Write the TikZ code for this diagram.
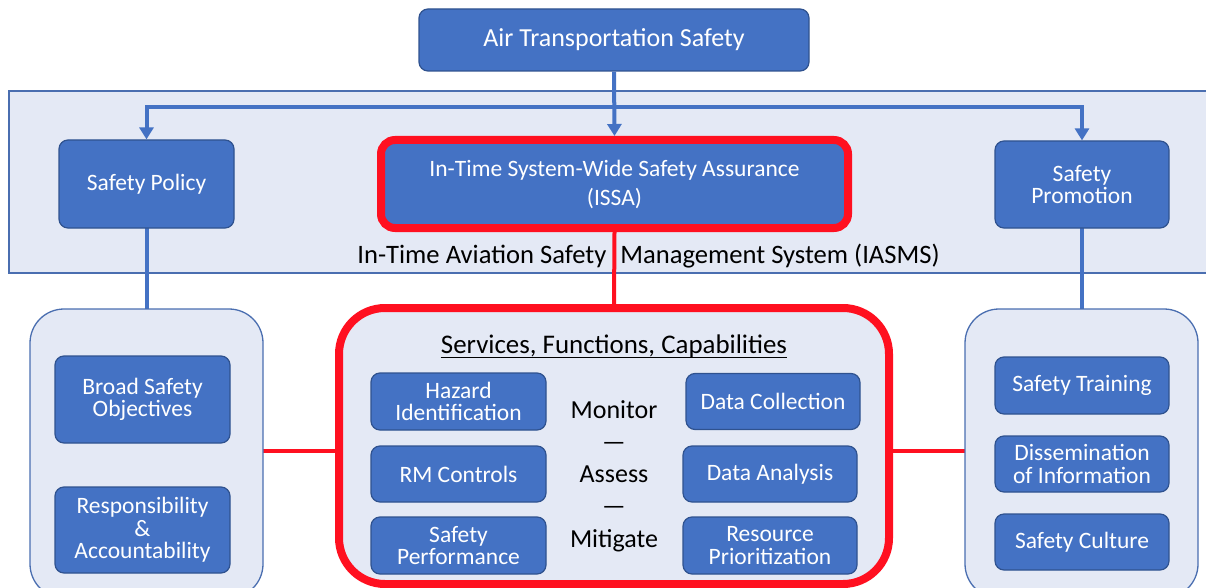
\documentclass[tikz,border=0pt]{standalone}
\usepackage{fontspec}
\setmainfont{Carlito}
\usetikzlibrary{arrows.meta}
\definecolor{ofblue}{HTML}{4472C4}
\definecolor{bord}{HTML}{2F528F}
\definecolor{lightbg}{HTML}{E4E9F5}
\definecolor{frame}{HTML}{4A6EB0}
\definecolor{hot}{RGB}{255,16,32}
\pgfdeclarelayer{back}
\pgfdeclarelayer{mid}
\pgfsetlayers{back,mid,main}
\begin{document}
\begin{tikzpicture}[x=1pt,y=-1pt,
  bluebox/.style={draw=bord, line width=1.2pt, fill=ofblue, rounded corners=9pt,
    text=white, align=center, inner sep=0pt, font=\fontsize{23.5}{22.5}\selectfont},
  container/.style={draw=frame, line width=1.3pt, fill=lightbg, rounded corners=34pt, inner sep=0pt},
  conn/.style={draw=ofblue, line width=4pt},
  hotline/.style={draw=hot, line width=4pt},
  arrowend/.style={-{Triangle[width=14pt,length=12pt]}},
  lbl/.style={text=black, font=\fontsize{26}{28}\selectfont, inner sep=0pt}
]
\useasboundingbox (0,0) rectangle (1206,588);

% band
\begin{pgfonlayer}{back}
\node[draw=frame, line width=1.5pt, fill=lightbg, minimum width=1206pt, minimum height=182pt, inner sep=0pt] (band) at (612,182) {};
\end{pgfonlayer}

% top
\node[bluebox, minimum width=390pt, minimum height=62pt, font=\fontsize{26}{28}\selectfont] (ats) at (614,40) {Air Transportation Safety};

% second row
\node[bluebox, minimum width=175pt, minimum height=88pt] (policy) at (146.5,184) {Safety Policy};
\node[bluebox, draw=hot, line width=8pt, rounded corners=14pt, minimum width=467pt, minimum height=88pt, font=\fontsize{23.5}{29}\selectfont] (issa) at (614.5,184) {In-Time System-Wide Safety Assurance\\(ISSA)};
\node[bluebox, minimum width=174pt, minimum height=87pt] (promo) at (1082,184.5) {Safety\\Promotion};

\node[lbl, anchor=base, font=\fontsize{26.6}{28}\selectfont] (iasms) at (648.5,263) {In-Time Aviation Safety\hspace{14pt}Management System (IASMS)};

% containers
\node[container, minimum width=233pt, minimum height=289pt] (leftc) at (146.5,453.5) {};
\node[container, minimum width=233pt, minimum height=289pt] (rightc) at (1081.5,453.5) {};
\node[container, draw=hot, line width=8pt, rounded corners=46pt, minimum width=550pt, minimum height=276pt] (centerc) at (614,446) {};

% left contents
\node[bluebox, minimum width=175pt, minimum height=87pt] (broad) at (142.5,399.5) {Broad Safety\\Objectives};
\node[bluebox, minimum width=175pt, minimum height=86pt] (resp) at (142.5,530) {Responsibility\\\&\\Accountability};

% center contents
\node[lbl, anchor=base, font=\fontsize{26.9}{28}\selectfont] (title) at (614,353) {Services, Functions, Capabilities};
\draw[line width=1.8pt] ([yshift=-4.5pt]title.base west) -- ([yshift=-4.5pt]title.base east);

\node[bluebox, minimum width=175pt, minimum height=57pt] (hazard) at (458.5,401.5) {Hazard\\Identification};
\node[bluebox, minimum width=175pt, minimum height=56pt] (rm) at (458.5,474) {RM Controls};
\node[bluebox, minimum width=175pt, minimum height=57pt] (perf) at (458.5,545.5) {Safety\\Performance};
\node[bluebox, minimum width=174pt, minimum height=56pt] (dcoll) at (773,401.5) {Data Collection};
\node[bluebox, minimum width=174pt, minimum height=56pt] (dana) at (770,474) {Data Analysis};
\node[bluebox, minimum width=174pt, minimum height=57pt] (rprio) at (770,545.5) {Resource\\Prioritization};

\node[lbl, anchor=base] (monitor) at (614,418) {Monitor};
\node[lbl, anchor=base] (dash1) at (614,450) {—};
\node[lbl, anchor=base] (assess) at (614,482) {Assess};
\node[lbl, anchor=base] (dash2) at (614,514) {—};
\node[lbl, anchor=base] (mitigate) at (614,547) {Mitigate};

% right contents
\node[bluebox, minimum width=174pt, minimum height=57pt] (train) at (1082,385.5) {Safety Training};
\node[bluebox, minimum width=174pt, minimum height=56pt] (dissem) at (1082,464) {Dissemination\\of Information};
\node[bluebox, minimum width=174pt, minimum height=56pt] (culture) at (1082,542) {Safety Culture};

% connectors
\coordinate (split) at (614,107);
\coordinate (lr) at (0,450.5);
\draw[conn, arrowend] (ats.south) -- (issa.north);
\draw[conn, arrowend] (split) -| (policy.north);
\draw[conn, arrowend] (split) -| (promo.north);
\begin{pgfonlayer}{mid}
\draw[conn] (policy.center) -- (leftc.center |- policy.center) -- (leftc.center);
\draw[conn] (promo.center) -- (rightc.center |- promo.center) -- (rightc.center);
\draw[hotline] (leftc.center |- lr) -- (centerc.center |- lr);
\draw[hotline] (centerc.center |- lr) -- (rightc.center |- lr);
\end{pgfonlayer}
\draw[hotline] (issa.south) -- (centerc.north);
\end{tikzpicture}
\end{document}
